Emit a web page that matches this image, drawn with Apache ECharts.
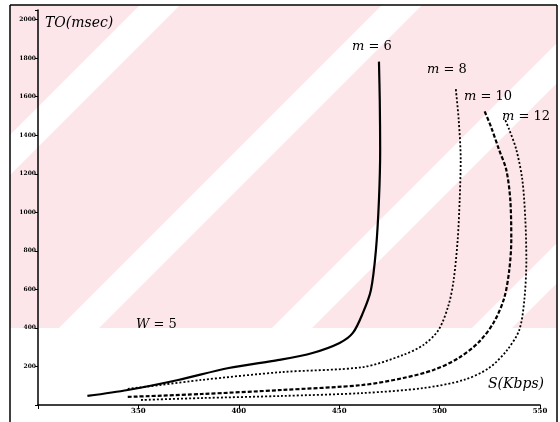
<!DOCTYPE html>
<html><head><meta charset="utf-8">
<script src="https://cdn.jsdelivr.net/npm/echarts@6/dist/echarts.min.js"></script>
<style>html,body{margin:0;padding:0;background:#fff}#c{width:560px;height:422px}</style>
</head><body><div id="c"></div>
<script>
const xTicks = [350, 400, 450, 500, 550];
const yTicks = [200, 400, 600, 800, 1000, 1200, 1400, 1600, 1800, 2000];
const m6 = [[324.6,47],[344.7,78],[369.8,130],[395,192],[420,234],[436.7,270],[450.2,322],[456.8,374],[461.8,478],[465.8,597],[468.3,805],[469.8,1065],[470.4,1325],[470.2,1585],[469.8,1782]];
const m8 = [[344.7,83],[381.4,130],[421.6,171],[461.8,197],[481.9,260],[492,312],[499.5,390],[504.5,520],[507,649],[509,857],[510,1065],[510.5,1273],[509.5,1481],[508,1647]];
const m10 = [[344.7,42],[381.4,57],[421.6,78],[461.8,104],[481.9,140],[497,182],[509.5,244],[519.6,327],[527.1,431],[532.2,556],[534.7,701],[535.7,857],[535.2,1065],[533.2,1221],[529.6,1325],[525.6,1444],[522.1,1532]];
const m12 = [[351.3,26],[381.4,36],[421.6,47],[461.8,62],[492,88],[512,130],[524.6,192],[533.7,286],[539.7,390],[542.2,545],[543.2,753],[542.7,961],[541.2,1169],[538.2,1325],[534.7,1429],[532.2,1491]];

const chart = echarts.init(document.getElementById('c'), null, {renderer:'canvas'});
const pink = '#fce6ea';
const serif = '"DejaVu Serif", "Liberation Serif", serif';
function lab(x, y, name, val) {
  return {type:'text', left:x, top:y, z:10, style:{
    text:'{i|'+name+'}{n| = '+val+'}',
    rich:{i:{fontFamily:serif, fontStyle:'italic', fontSize:13, fill:'#000'}, n:{fontFamily:serif, fontSize:13, fill:'#000'}}
  }};
}
// white diagonal gap in the pink watermark: band where s <= x+y <= s+w, clipped to y in [5,328]
function gap(s, w) {
  const y0 = 5, y1 = 328;
  return {type:'polygon', z:-19, shape:{points:[[s-y0,y0],[s+w-y0,y0],[s+w-y1,y1],[s-y1,y1]]}, style:{fill:'#fff'}};
}
const option = {
  animation:false,
  backgroundColor:'#fff',
  grid:{left:38, right:20, top:10, bottom:17},
  xAxis:{type:'value', min:300, max:550, interval:50,
    axisLine:{lineStyle:{color:'#000', width:1.5}},
    axisTick:{show:true, length:4, lineStyle:{color:'#000'}},
    axisLabel:{fontSize:7, fontWeight:'bold', color:'#000', fontFamily:serif, margin:3,
      formatter:v => xTicks.includes(v) ? String(v) : ''},
    splitLine:{show:false}},
  yAxis:{type:'value', min:0, max:2050, interval:200,
    axisLine:{show:true, lineStyle:{color:'#000', width:1.5}},
    axisTick:{show:true, length:3, lineStyle:{color:'#000'}},
    axisLabel:{fontSize:6, fontWeight:'bold', color:'#000', fontFamily:serif, margin:2,
      formatter:v => yTicks.includes(v) ? String(v) : ''},
    splitLine:{show:false}},
  series:[
    {type:'line', data:m6, showSymbol:false, smooth:0.3, lineStyle:{color:'#000', width:2.2, type:'solid'}},
    {type:'line', data:m8, showSymbol:false, smooth:0.3, lineStyle:{color:'#000', width:1.8, type:[2,2]}},
    {type:'line', data:m10, showSymbol:false, smooth:0.3, lineStyle:{color:'#000', width:2.2, type:[4,2]}},
    {type:'line', data:m12, showSymbol:false, smooth:0.3, lineStyle:{color:'#000', width:1.8, type:[2,2]}}
  ],
  graphic:[
    {type:'rect', z:-20, shape:{x:10, y:5, width:547, height:323}, style:{fill:pink}},
    gap(145, 40), gap(387, 40), gap(600, 40), gap(800, 40),
    {type:'rect', z:-19, shape:{x:0, y:0, width:10, height:422}, style:{fill:'#fff'}},
    {type:'rect', z:-19, shape:{x:557, y:0, width:10, height:422}, style:{fill:'#fff'}},
    {type:'line', z:5, shape:{x1:10, y1:5, x2:10, y2:422}, style:{stroke:'#000', lineWidth:1.5}},
    {type:'line', z:5, shape:{x1:10, y1:5, x2:557, y2:5}, style:{stroke:'#000', lineWidth:1.5}},
    {type:'line', z:5, shape:{x1:557, y1:5, x2:557, y2:422}, style:{stroke:'#000', lineWidth:1.5}},
    {type:'text', left:45, top:16, z:10, style:{text:'TO(msec)', fontFamily:serif, fontStyle:'italic', fontSize:14, fill:'#000'}},
    {type:'text', left:488, top:377, z:10, style:{text:'S(Kbps)', fontFamily:serif, fontStyle:'italic', fontSize:14, fill:'#000'}},
    lab(352, 40, 'm', 6),
    lab(427, 63, 'm', 8),
    lab(464, 90, 'm', 10),
    lab(502, 110, 'm', 12),
    lab(136, 318, 'W', 5)
  ]
};
chart.setOption(option);
</script></body></html>
